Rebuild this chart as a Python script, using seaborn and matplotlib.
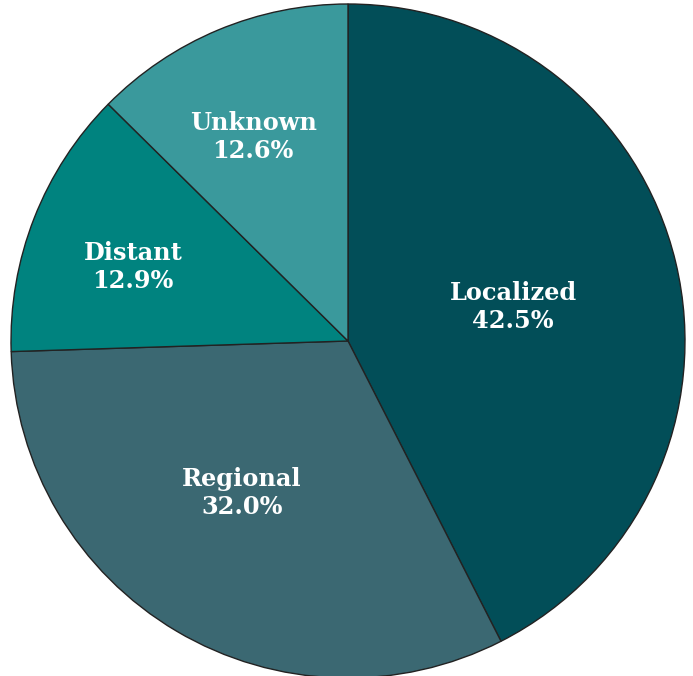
import numpy as np
import matplotlib
matplotlib.use("Agg")
import matplotlib.pyplot as plt
import seaborn as sns

# data
stages = ["Localized", "Regional", "Distant", "Unknown"]
shares = [42.5, 32.0, 12.9, 12.6]
colors = ["#024e58", "#3b6872", "#00837f", "#3a999c"]

sns.set_theme(style="white")
plt.rcParams["font.family"] = ["DejaVu Serif"]

fig = plt.figure(figsize=(6.93, 6.76), dpi=100)
ax = fig.add_axes([0, 0, 1, 1])

wedges, _ = ax.pie(
    shares,
    colors=sns.color_palette(colors),
    startangle=90,
    counterclock=False,
    radius=1.0,
    wedgeprops=dict(edgecolor="#222222", linewidth=1.0),
)

# label radius / angle nudge per slice
label_r = [0.50, 0.55, 0.675, 0.667]
label_turn = [-1.9, -4.4, 2.4, 2.3]
for w, name, val, r, dt in zip(wedges, stages, shares, label_r, label_turn):
    mid = np.deg2rad((w.theta1 + w.theta2) / 2 + dt)
    ax.text(r * np.cos(mid), r * np.sin(mid), f"{name}\n{val:.1f}%",
            ha="center", va="center", color="white", fontsize=17.3,
            fontweight="bold", linespacing=1.22)

px = 337.0
ax.set_xlim(-348 / px, (693 - 348) / px)
ax.set_ylim(-(676 - 341) / px, 341 / px)
ax.set_aspect("equal")
ax.axis("off")

fig.savefig("out.png", dpi=100)
